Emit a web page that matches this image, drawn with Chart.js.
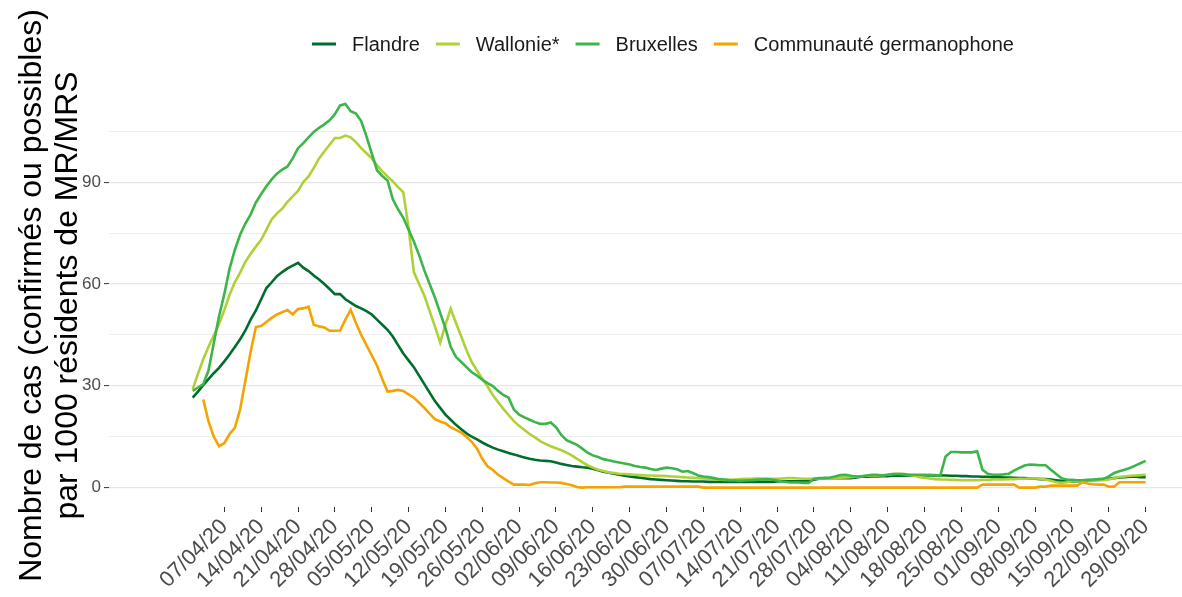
<!DOCTYPE html>
<html>
<head>
<meta charset="utf-8">
<script src="https://cdn.jsdelivr.net/npm/chart.js@4/dist/chart.umd.min.js"></script>
<style>
  html, body { margin: 0; padding: 0; background: #fff; }
  #wrap { width: 1182px; height: 597px; }
</style>
</head>
<body>
<div id="wrap"><canvas id="chart" width="1182" height="597"></canvas></div>
<script>
// x = jours depuis le 01/04/20
const startDate = "01/04/20";

const tickDays = [6, 13, 20, 27, 34, 41, 48, 55, 62, 69, 76, 83, 90, 97, 104, 111, 118, 125, 132, 139, 146, 153, 160, 167, 174, 181];
const tickLabels = ["07/04/20", "14/04/20", "21/04/20", "28/04/20", "05/05/20", "12/05/20", "19/05/20", "26/05/20",
    "02/06/20", "09/06/20", "16/06/20", "23/06/20", "30/06/20", "07/07/20", "14/07/20", "21/07/20", "28/07/20",
    "04/08/20", "11/08/20", "18/08/20", "25/08/20", "01/09/20", "08/09/20", "15/09/20", "22/09/20", "29/09/20"];

const yTicks = [0, 15, 30, 45, 60, 75, 90, 105];

const flandre = [
    26.5, 28.3, 30.2, 32, 33.7, 35.3, 37.2, 39.2, 41.4, 43.7,
    46.3, 49.5, 52.2, 55.5, 58.8, 60.5, 62.3, 63.5, 64.6, 65.4,
    66.2, 64.8, 63.8, 62.5, 61.3, 60, 58.5, 57, 57, 55.5,
    54.5, 53.5, 52.8, 52, 51, 49.5, 48, 46.5, 44.5, 42,
    39.5, 37.5, 35.5, 33, 30.5, 28, 25.5, 23.5, 21.5, 20,
    18.5, 17.2, 16, 15, 14.2, 13.3, 12.5, 11.8, 11.2, 10.7,
    10.2, 9.8, 9.3, 8.9, 8.5, 8.2, 8.0, 7.9, 7.8, 7.4,
    7.0, 6.7, 6.4, 6.2, 6.0, 5.9, 5.6, 5.1, 4.7, 4.4,
    4.1, 3.8, 3.5, 3.3, 3.1, 2.9, 2.7, 2.5, 2.4, 2.3,
    2.2, 2.1, 2.0, 1.9, 1.9, 1.8, 1.8, 1.8, 1.7, 1.7,
    1.7, 1.7, 1.7, 1.7, 1.7, 1.7, 1.7, 1.7, 1.7, 1.7,
    1.7, 1.8, 1.9, 1.9, 1.9, 1.9, 1.9, 1.9, 2.3, 2.6,
    2.8, 2.8, 2.8, 2.8, 2.8, 2.8, 3.0, 3.2, 3.2, 3.3,
    3.3, 3.4, 3.4, 3.5, 3.5, 3.5, 3.6, 3.6, 3.6, 3.6,
    3.7, 3.6, 3.6, 3.6, 3.5, 3.5, 3.4, 3.4, 3.3, 3.3,
    3.2, 3.2, 3.1, 3.1, 3.0, 3.0, 2.9, 2.8, 2.8, 2.7,
    2.6, 2.5, 2.5, 2.4, 2.2, 2.0, 1.8, 1.8, 1.9, 2.0,
    2.1, 2.2, 2.3, 2.5, 2.6, 2.8, 3.0, 3.1, 3.2, 3.2,
    3.1, 3.1
];

const wallonie = [
    29, 33.5, 37.8, 41.5, 44.8, 48.2, 52.3, 56.8, 60.5, 63.3,
    66.5, 68.9, 71, 73, 76, 79, 80.8, 82.2, 84.2, 85.8,
    87.4, 90, 91.7, 94.2, 97, 99, 101, 103, 103, 103.7,
    103.2, 101.8, 100, 98.5, 97, 95, 93.2, 91.7, 90.2, 88.5,
    87, 76.5, 63.5, 60, 56.5, 52, 47.5, 42.7, 48, 52.7,
    48.5, 44.5, 40.5, 37, 34.5, 32, 29.8, 27.3, 25.2, 23.2,
    21.4, 19.6, 18.2, 17, 15.8, 14.8, 13.7, 12.9, 12.2, 11.6,
    11, 10.3, 9.5, 8.5, 7.5, 6.6, 5.9, 5.3, 4.9, 4.5,
    4.3, 4.1, 4.0, 3.9, 3.8, 3.7, 3.6, 3.6, 3.5, 3.5,
    3.4, 3.3, 3.2, 3.1, 3.0, 2.9, 2.8, 2.7, 2.6, 2.5,
    2.4, 2.3, 2.3, 2.4, 2.5, 2.6, 2.6, 2.7, 2.7, 2.6,
    2.6, 2.6, 2.7, 2.8, 2.8, 2.7, 2.6, 2.6, 2.6, 2.6,
    2.7, 2.7, 2.8, 2.9, 3.0, 3.1, 3.3, 3.4, 3.5, 3.6,
    3.6, 3.7, 3.8, 4.0, 4.1, 4.1, 3.8, 3.5, 3.1, 2.9,
    2.7, 2.5, 2.4, 2.4, 2.3, 2.3, 2.2, 2.2, 2.2, 2.2,
    2.3, 2.3, 2.4, 2.4, 2.4, 2.5, 2.5, 2.6, 2.6, 2.7,
    2.7, 2.6, 2.4, 2.0, 1.6, 1.4, 1.6, 1.9, 2.0, 2.1,
    2.1, 2.2, 2.2, 2.2, 2.4, 2.8, 3.2, 3.3, 3.5, 3.6,
    3.7, 3.8
];

const bruxelles = [
    28.5, 29.5, 30.5, 34.5, 42.5, 50.5, 57, 64.5, 70, 74.5,
    77.8, 80.5, 84, 86.5, 88.8, 90.8, 92.5, 93.7, 94.6, 97,
    100, 101.5, 103.2, 104.8, 106, 107, 108.2, 110, 112.6, 113,
    110.9, 110.2, 108, 103.5, 98.5, 93.5, 91.8, 90.5, 85, 82,
    79.5, 76, 72.5, 68.5, 64, 60, 56, 51.5, 47, 41.5,
    38.5, 37, 35.5, 34, 33, 31.8, 30.8, 29.9, 28.5, 27.3,
    26.5, 23, 21.5, 20.7, 20, 19.3, 18.8, 18.8, 19.2, 17.8,
    15.5, 14, 13.3, 12.6, 11.5, 10.3, 9.5, 9, 8.4, 8.1,
    7.7, 7.4, 7.1, 6.8, 6.4, 6.1, 5.9, 5.5, 5.2, 5.6,
    5.9, 5.7, 5.4, 4.7, 4.9, 4.3, 3.6, 3.3, 3.1, 2.8,
    2.5, 2.4, 2.2, 2.1, 2.0, 2.1, 2.2, 2.3, 2.4, 2.5,
    2.4, 2.1, 1.8, 1.6, 1.5, 1.5, 1.4, 1.4, 2.6, 2.8,
    2.8, 2.9, 3.3, 3.7, 3.8, 3.5, 3.3, 3.3, 3.6, 3.8,
    3.8, 3.6, 3.8, 4.0, 4.0, 3.9, 3.8, 3.8, 3.8, 3.8,
    3.7, 3.7, 3.6, 9.2, 10.5, 10.5, 10.4, 10.4, 10.4, 10.7,
    5.3, 4.1, 3.8, 3.8, 3.9, 4.1, 5.0, 5.8, 6.5, 6.8,
    6.7, 6.6, 6.6, 5.3, 4.0, 2.8, 2.4, 2.3, 2.2, 2.2,
    2.3, 2.4, 2.5, 2.6, 3.3, 4.3, 4.8, 5.3, 5.8, 6.5,
    7.2, 7.9
];

const germanophone = [
    null, null, 26, 19.5, 15, 12.2, 13.1, 15.8, 17.6, 23,
    31.5, 40, 47.3, 47.6, 48.8, 50, 51, 51.7, 52.3, 51,
    52.6, 52.8, 53.3, 48, 47.5, 47.2, 46.2, 46.2, 46.3, 49.5,
    52.4, 48.5, 45, 42, 39, 36, 32, 28.3, 28.5, 28.8,
    28.5, 27.5, 26.5, 25, 23.5, 21.8, 20.2, 19.5, 19, 17.8,
    17, 16.2, 15, 13.5, 11.5, 8.5, 6.3, 5.2, 3.8, 2.8,
    1.8, 0.9, 0.9, 0.9, 0.8, 1.3, 1.6, 1.6, 1.5, 1.5,
    1.4, 1.1, 0.7, 0.2, 0, 0.1, 0.1, 0.1, 0.1, 0.1,
    0.1, 0.1, 0.3, 0.3, 0.3, 0.3, 0.3, 0.3, 0.3, 0.3,
    0.3, 0.3, 0.3, 0.3, 0.3, 0.3, 0.3, 0, 0, 0,
    0, 0, 0, 0, 0, 0, 0, 0, 0, 0,
    0, 0, 0, 0, 0, 0, 0, 0, 0, 0,
    0, 0, 0, 0, 0, 0, 0, 0, 0, 0,
    0, 0, 0, 0, 0, 0, 0, 0, 0, 0,
    0, 0, 0, 0, 0, 0, 0, 0, 0, 0,
    0.9, 0.9, 0.9, 0.9, 0.9, 0.9, 0.9, 0, 0, 0,
    0, 0.3, 0.3, 0.6, 0.6, 0.6, 0.6, 0.6, 0.6, 1.6,
    1.2, 1.0, 0.9, 0.9, 0.3, 0.3, 1.6, 1.6, 1.6, 1.6,
    1.6, 1.6
];

const seriesNames = ["Flandre", "Wallonie*", "Bruxelles", "Communauté germanophone"];
const seriesColors = ["#006d2c", "#add136", "#3db54a", "#f5a300"];
const seriesValues = [flandre, wallonie, bruxelles, germanophone];

const FONT = '"Liberation Sans", Arial, sans-serif';

// légende dessinée à la main, façon ggplot
const refLegend = {
    id: "refLegend",
    afterDraw(chart) {
        const ctx = chart.ctx;
        ctx.save();
        ctx.font = "20px " + FONT;
        const lineW = 24, gap = 16, itemGap = 16;
        const widths = seriesNames.map(n => ctx.measureText(n).width);
        let total = itemGap * (seriesNames.length - 1);
        widths.forEach(w => total += lineW + gap + w);
        let x = 663 - total / 2;
        const y = 44;
        ctx.textBaseline = "middle";
        ctx.textAlign = "left";
        seriesNames.forEach((name, i) => {
            ctx.strokeStyle = seriesColors[i];
            ctx.lineWidth = 3;
            ctx.beginPath();
            ctx.moveTo(x, y);
            ctx.lineTo(x + lineW, y);
            ctx.stroke();
            ctx.fillStyle = "#1a1a1a";
            ctx.fillText(name, x + lineW + gap, y + 1);
            x += lineW + gap + widths[i] + itemGap;
        });
        ctx.restore();
    }
};

const datasets = seriesNames.map((name, i) => ({
    label: name,
    data: seriesValues[i].map((v, d) => ({ x: d, y: v })),
    borderColor: seriesColors[i],
    backgroundColor: seriesColors[i],
    borderWidth: 2.6,
    pointRadius: 0,
    tension: 0,
    spanGaps: false,
    order: seriesNames.length - i
}));

new Chart(document.getElementById("chart"), {
    type: "line",
    data: { datasets: datasets },
    options: {
        responsive: false,
        animation: false,
        layout: { padding: { top: 84, left: 0, right: 0, bottom: 0 } },
        plugins: {
            legend: { display: false },
            tooltip: { enabled: false }
        },
        scales: {
            x: {
                type: "linear",
                min: -15.9,
                max: 187.9,
                afterBuildTicks: (scale) => { scale.ticks = tickDays.map(v => ({ value: v })); },
                afterFit: (scale) => { scale.height = 90; },
                border: { display: false },
                grid: {
                    drawOnChartArea: false,
                    drawTicks: true,
                    tickLength: 5,
                    tickColor: "#333333",
                    tickWidth: 1
                },
                ticks: {
                    autoSkip: false,
                    minRotation: 45,
                    maxRotation: 45,
                    padding: 2,
                    color: "#4d4d4d",
                    font: { family: FONT, size: 22 },
                    callback: (value, index) => tickLabels[index]
                }
            },
            y: {
                min: -5.7,
                max: 118.9,
                afterBuildTicks: (scale) => { scale.ticks = yTicks.map(v => ({ value: v })); },
                afterFit: (scale) => { scale.width = 109; },
                border: { display: false },
                grid: {
                    color: (c) => (c.tick && c.tick.value % 30 === 0) ? "#e6e6e6" : "#efefef",
                    lineWidth: (c) => (c.tick && c.tick.value % 30 === 0) ? 1.2 : 1,
                    drawTicks: true,
                    tickLength: 5,
                    tickColor: (c) => (c.tick && c.tick.value % 30 === 0) ? "#333333" : "rgba(0,0,0,0)",
                    tickWidth: 1
                },
                ticks: {
                    padding: 3,
                    color: "#4d4d4d",
                    font: { family: FONT, size: 17 },
                    callback: (value) => (value % 30 === 0 ? String(value) : "")
                },
                title: {
                    display: true,
                    text: ["Nombre de cas (confirmés ou possibles)", "par 1000 résidents de MR/MRS"],
                    color: "#000000",
                    font: { family: FONT, size: 32, lineHeight: 1.1 },
                    padding: { top: 15, bottom: 0 }
                }
            }
        }
    },
    plugins: [refLegend]
});
</script>
</body>
</html>
